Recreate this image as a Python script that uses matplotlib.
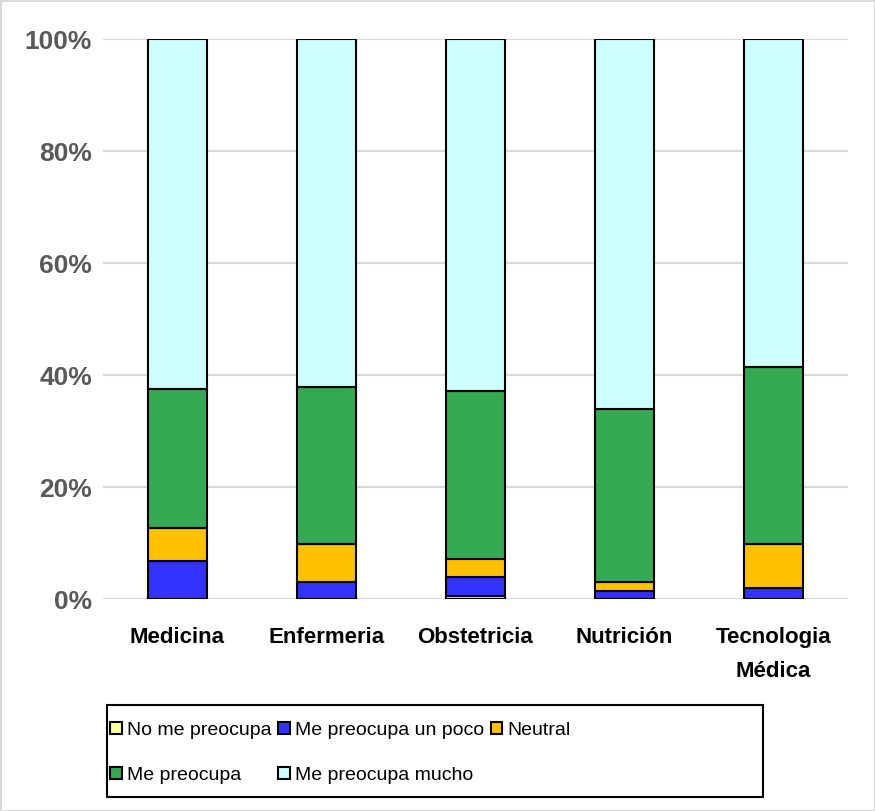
import matplotlib.pyplot as plt
from matplotlib.patches import Rectangle
import numpy as np

# datos (porcentajes)
carreras = ['Medicina', 'Enfermeria', 'Obstetricia', 'Nutrición', 'Tecnologia\nMédica']
no_me_preocupa = [0.0, 0.0, 0.6, 0.0, 0.0]
un_poco = [6.7, 3.1, 3.3, 1.4, 1.9]
neutral = [6.0, 6.8, 3.2, 1.7, 8.0]
me_preocupa = [24.8, 28.0, 30.0, 30.8, 31.5]
mucho = [62.5, 62.1, 62.9, 66.1, 58.6]

series = [no_me_preocupa, un_poco, neutral, me_preocupa, mucho]
nombres = ['No me preocupa', 'Me preocupa un poco', 'Neutral', 'Me preocupa', 'Me preocupa mucho']
colores = ['#FFFF99', '#3333FF', '#FFC000', '#35A853', '#CCFFFF']

plt.rcParams['font.family'] = ['Liberation Sans Narrow', 'Liberation Sans', 'DejaVu Sans']

fig = plt.figure(figsize=(8.75, 8.11), dpi=100)
fig.patch.set_edgecolor('#D9D9D9')
fig.patch.set_linewidth(2)
ax = fig.add_axes([0.1177, 0.2614, 0.8514, 0.6905])

x = np.arange(len(carreras))
base = np.zeros(len(carreras))
barras = []
for vals, nom, col in zip(series, nombres, colores):
    vals = np.array(vals)
    b = ax.bar(x, vals, 0.4, bottom=base, color=col, edgecolor='black', linewidth=1.5, label=nom, zorder=3)
    barras.append(b)
    base = base + vals

ax.set_xlim(-0.5, len(carreras) - 0.5)
ax.set_ylim(0, 100)
ax.set_yticks([0, 20, 40, 60, 80, 100])
ax.set_yticklabels(['0%', '20%', '40%', '60%', '80%', '100%'], fontsize=19, fontweight='bold', color='#595959')
ax.set_xticks(x)
ax.set_xticklabels(carreras, fontsize=16, fontweight='bold', color='black', linespacing=1.8)
ax.tick_params(axis='y', length=0, pad=8)
ax.tick_params(axis='x', length=0, pad=20)
ax.yaxis.grid(True, color='#D9D9D9', linewidth=1.5, zorder=0)
for s in ax.spines.values():
    s.set_visible(False)

# marco del legend
fig.patches.append(Rectangle((0.1223, 0.0173), 0.75, 0.1134, transform=fig.transFigure,
                             fill=False, edgecolor='black', linewidth=1.5))

# orden para que el legend quede en filas como el original
orden = [0, 3, 1, 4, 2]
h = [barras[i] for i in orden]
l = [nombres[i] for i in orden]
leg = fig.legend(h, l, loc='upper left', bbox_to_anchor=(0.126, 0.110),
                 ncol=3, fontsize=14, frameon=False,
                 handlelength=0.6, handleheight=0.6, handletextpad=0.25,
                 columnspacing=0.35, labelspacing=1.45, borderpad=0, borderaxespad=0)

fig.savefig('out.png', dpi=100)
